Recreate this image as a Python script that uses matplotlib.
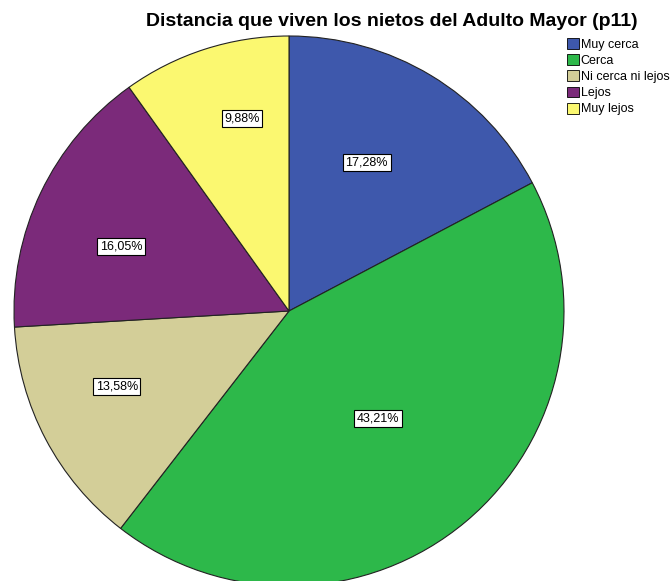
import numpy as np
from matplotlib import pyplot as plt
from matplotlib.patches import Patch

plt.rcParams['font.family'] = ['Liberation Sans', 'DejaVu Sans']

categorias = ["Muy cerca", "Cerca", "Ni cerca ni lejos", "Lejos", "Muy lejos"]
porcentajes = [17.28, 43.21, 13.58, 16.05, 9.88]
colores = ["#3E58AC", "#2DB84A", "#D3CE98", "#7B2A7A", "#FBF870"]
# where each percent box sits: fraction along the wedge (clockwise) and of radius
frac_angulo = [0.444, 0.502, 0.582, 0.42, 0.612]
dist_etiqueta = [0.61, 0.506, 0.684, 0.654, 0.719]

W, H = 672, 581
fig = plt.figure(figsize=(W / 100, H / 100), dpi=100)
ax = fig.add_axes([0, 0, 1, 1])

cx, cy, r = 289, H - 311, 275
wedges, _ = ax.pie(porcentajes, colors=colores, startangle=90, counterclock=False,
                   center=(cx, cy), radius=r, frame=True,
                   wedgeprops=dict(edgecolor='#222222', linewidth=0.8))
ax.set_xlim(0, W)
ax.set_ylim(0, H)
ax.set_aspect('equal')
ax.axis('off')

total = sum(porcentajes)
acum = 0
for p, f, d in zip(porcentajes, frac_angulo, dist_etiqueta):
	a0 = 90 - 360 * acum / total
	a1 = 90 - 360 * (acum + p) / total
	acum += p
	ang = np.deg2rad(a0 + f * (a1 - a0))
	x = cx + d * r * np.cos(ang)
	y = cy + d * r * np.sin(ang)
	ax.text(x, y, ("%.2f%%" % p).replace('.', ','), ha='center', va='center', fontsize=9,
	        bbox=dict(boxstyle='square,pad=0.2', facecolor='white', edgecolor='black', linewidth=0.8))

fig.text(392 / W, 1 - 21 / H, "Distancia que viven los nietos del Adulto Mayor (p11)",
         ha='center', va='center', fontsize=14, fontweight='bold')

handles = [Patch(facecolor=c, edgecolor='black', linewidth=0.6) for c in colores]
fig.legend(handles, categorias, loc='upper left', bbox_to_anchor=(567 / W, 1 - 38 / H),
           frameon=False, fontsize=9, handlelength=0.95, handleheight=0.95,
           handletextpad=0.15, labelspacing=0.28, borderpad=0, borderaxespad=0)

fig.savefig("out.png", dpi=100)
